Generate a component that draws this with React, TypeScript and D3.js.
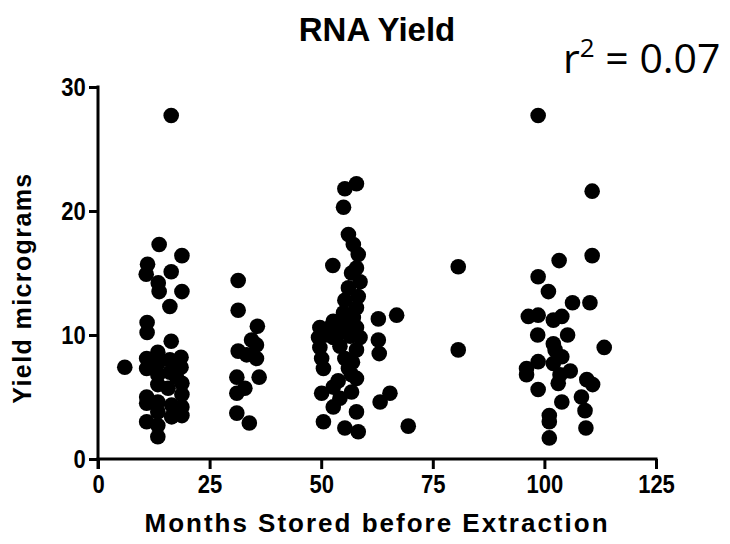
import { useEffect, useRef } from "react";
import * as d3 from "d3";

// [months stored, yield in micrograms]
const group1: [number, number][] = [
  [16.4, 27.7], [13.7, 17.3], [18.8, 16.4], [11.1, 15.7], [16.4, 15.1], [10.8, 14.9],
  [13.5, 14.2], [13.7, 13.5], [18.8, 13.5], [16.1, 12.3], [11.0, 11.0], [11.0, 10.2],
  [16.4, 9.5], [6.0, 7.4], [13.4, 8.6], [10.9, 8.1], [18.6, 8.2], [13.4, 7.7],
  [10.9, 7.3], [18.6, 7.4], [13.4, 6.8], [17.6, 6.6], [13.4, 6.0], [18.8, 6.1],
  [15.7, 5.7], [10.9, 5.0], [18.8, 5.2], [13.4, 4.6], [10.9, 4.5], [16.5, 4.35],
  [18.8, 4.2], [13.4, 3.8], [10.9, 3.0], [13.4, 2.7], [16.5, 3.4], [18.8, 3.5],
  [13.4, 1.8], [16.1, 8.0], [16.1, 7.0],
];
const group2: [number, number][] = [
  [31.4, 14.4], [31.4, 12.0], [35.7, 10.7], [34.4, 9.6], [35.5, 9.2], [31.4, 8.7],
  [33.3, 8.4], [35.5, 8.1], [31.1, 6.6], [36.1, 6.6], [32.9, 5.7], [31.1, 5.3],
  [31.1, 3.7], [33.9, 2.9],
];
const group3: [number, number][] = [
  [57.9, 22.2], [55.3, 21.8], [55.0, 20.3], [56.1, 18.1], [57.2, 17.3], [58.3, 16.5],
  [52.6, 15.6], [57.9, 15.4], [58.7, 14.3], [56.1, 13.8], [58.3, 13.1], [55.3, 12.8],
  [57.9, 12.2], [55.0, 11.8], [52.7, 11.1], [57.2, 11.4], [49.7, 10.6], [52.0, 10.6],
  [55.0, 10.6], [57.9, 10.6], [49.4, 9.8], [52.7, 9.8], [56.5, 9.9], [58.7, 9.8],
  [49.7, 9.0], [54.2, 9.1], [57.9, 8.8], [50.1, 8.1], [55.3, 8.1], [50.5, 7.3],
  [56.1, 7.3], [56.8, 6.8], [57.9, 6.5], [52.7, 5.8], [50.1, 5.3], [56.8, 5.4],
  [54.2, 4.9], [52.7, 4.2], [57.9, 3.8], [50.5, 3.0], [55.3, 2.5], [58.3, 2.2],
  [56.8, 15.0], [55.8, 11.4], [54.0, 10.2], [51.0, 10.0], [57.0, 7.8], [53.8, 6.3],
];
const group4: [number, number][] = [
  [62.8, 11.3], [66.9, 11.6], [62.8, 9.6], [63.0, 8.5], [65.4, 5.3], [63.2, 4.6],
  [69.5, 2.65],
];
const group5: [number, number][] = [[80.7, 15.5], [80.7, 8.8]];
const group6: [number, number][] = [
  [98.6, 27.7], [110.7, 21.6], [103.3, 16.0], [110.7, 16.4], [98.6, 14.7], [100.9, 13.5],
  [106.3, 12.6], [110.2, 12.6], [96.4, 11.5], [98.6, 11.6], [102.0, 11.2], [103.9, 11.5],
  [98.5, 10.0], [105.2, 10.0], [102.0, 9.3], [113.4, 9.0], [102.4, 8.8], [103.9, 8.25],
  [98.6, 7.85], [96.0, 7.3], [102.0, 7.7], [105.8, 7.1], [96.0, 6.8], [103.5, 6.8],
  [103.1, 6.1], [109.5, 6.4], [110.8, 6.0], [98.6, 5.6], [103.9, 4.6], [108.3, 5.0],
  [109.1, 3.9], [101.1, 3.5], [101.1, 3.0], [109.3, 2.5], [101.1, 1.7],
];

const xTicks = [0, 25, 50, 75, 100, 125];
const yTicks = [0, 10, 20, 30];
const title = "RNA Yield";
const rSquared = "0.07";
const xLabel = "Months Stored before Extraction";
const yLabel = "Yield micrograms";

const width = 730;
const height = 544;

export default function App() {
  const ref = useRef<SVGSVGElement | null>(null);

  useEffect(() => {
    if (!ref.current) return;
    const svg = d3.select(ref.current);
    svg.selectAll("*").remove();

    const x = d3.scaleLinear([0, 125], [98, 656]);
    const y = d3.scaleLinear([0, 30], [459, 87]);
    const font = "'Liberation Sans', Arial, sans-serif";

    // points
    const points = [...group1, ...group2, ...group3, ...group4, ...group5, ...group6];
    svg
      .append("g")
      .selectAll("circle")
      .data(points)
      .enter()
      .append("circle")
      .attr("cx", (d) => x(d[0]))
      .attr("cy", (d) => y(d[1]))
      .attr("r", 7.8)
      .attr("fill", "black");

    // x axis
    const xAxis = d3.axisBottom(x).tickValues(xTicks).tickSize(10).tickPadding(6);
    const xg = svg
      .append("g")
      .attr("transform", `translate(0,${y(0)})`)
      .call(xAxis);
    xg.select(".domain").attr("d", `M${x(0) - 1.5},0H${x(125) + 1.5}`);
    xg.selectAll("path,line").attr("stroke", "black").attr("stroke-width", 3);
    xg.selectAll("text")
      .attr("font-family", font)
      .attr("font-size", 25)
      .attr("font-weight", "bold")
      .attr("fill", "black")
      .attr("transform", "scale(0.88,1)");

    // y axis
    const yAxis = d3.axisLeft(y).tickValues(yTicks).tickSize(9).tickPadding(3);
    const yg = svg
      .append("g")
      .attr("transform", `translate(${x(0)},0)`)
      .call(yAxis);
    yg.select(".domain").attr("d", `M0,${y(30) - 1.5}V${y(0) + 10}`);
    yg.selectAll("path,line").attr("stroke", "black").attr("stroke-width", 3);
    yg.selectAll("text")
      .attr("font-family", font)
      .attr("font-size", 25)
      .attr("font-weight", "bold")
      .attr("fill", "black")
      .attr("x", -14)
      .attr("transform", "scale(0.88,1)");

    // title
    svg
      .append("text")
      .attr("x", 377)
      .attr("y", 41)
      .attr("text-anchor", "middle")
      .attr("font-family", font)
      .attr("font-size", 33)
      .attr("font-weight", "bold")
      .text(title);

    // r squared
    const r2 = svg
      .append("text")
      .attr("x", 563)
      .attr("y", 73)
      .attr("font-family", "'Open Sans', sans-serif")
      .attr("font-size", 41);
    r2.append("tspan").text("r");
    r2.append("tspan").attr("dy", -16).attr("font-size", 26).text("2");
    r2.append("tspan").attr("dy", 16).text(` = ${rSquared}`);

    // axis labels
    svg
      .append("text")
      .attr("x", 377)
      .attr("y", 532)
      .attr("text-anchor", "middle")
      .attr("font-family", font)
      .attr("font-size", 26)
      .attr("font-weight", "bold")
      .attr("letter-spacing", 2)
      .text(xLabel);

    svg
      .append("text")
      .attr("transform", `translate(31,${288}) rotate(-90)`)
      .attr("text-anchor", "middle")
      .attr("font-family", font)
      .attr("font-size", 25)
      .attr("font-weight", "bold")
      .attr("letter-spacing", 1.4)
      .text(yLabel);
  }, []);

  return (
    <svg
      ref={ref}
      width={width}
      height={height}
      style={{ position: "absolute", left: 0, top: 0, background: "white" }}
    />
  );
}
